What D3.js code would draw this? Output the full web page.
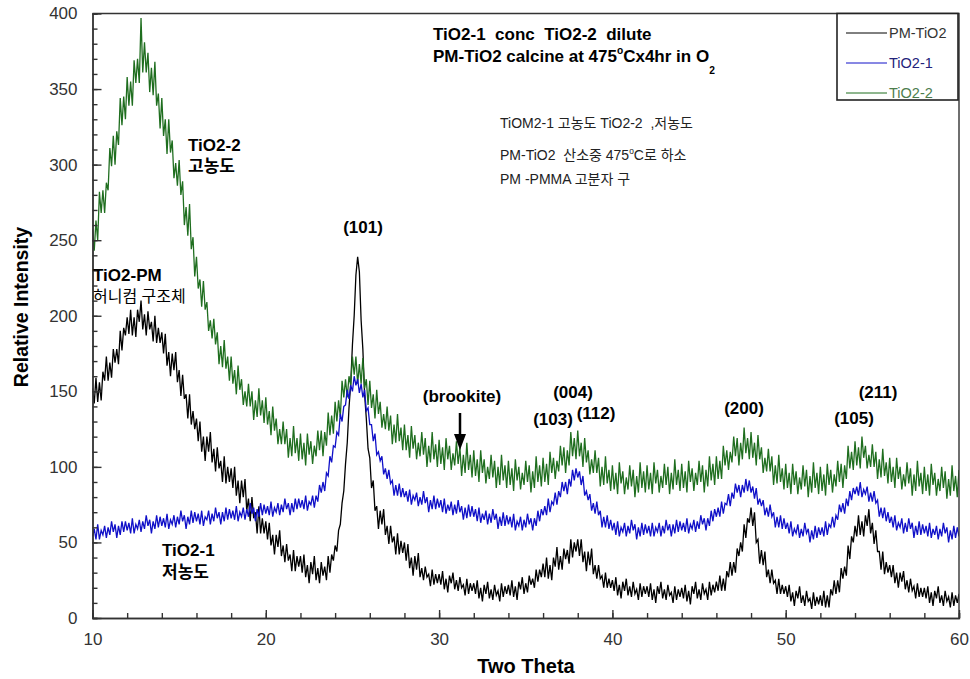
<!DOCTYPE html>
<html>
<head>
<meta charset="utf-8">
<script src="https://cdn.jsdelivr.net/npm/d3@7"></script>
<style>
  body { margin: 0; background: #fff; }
  text { font-family: "Liberation Sans", Arial, "Noto Sans CJK KR", sans-serif; }
</style>
</head>
<body>
<div id="chart"></div>
<script>
// scan grid, degrees two theta
var thetaStart = 10, thetaStep = 0.1;

// intensities, one value per step (10.0 .. 60.0), one row per degree
var pmTiO2 = [
  152,142,159,143,156,144,163,157,173,157,
  169,159,178,169,178,168,190,177,192,187,
  199,188,204,187,199,186,204,196,210,191,
  201,187,203,191,196,183,200,182,192,182,
  189,175,188,167,176,160,175,164,176,156,
  164,147,161,145,148,132,148,128,137,125,
  132,117,130,110,120,104,120,110,123,103,
  112,97,113,99,104,90,107,89,100,90,
  99,86,100,81,91,76,91,80,92,71,
  79,64,80,66,70,56,74,56,66,56,
  64,52,63,48,55,42,55,47,58,41,
  48,37,49,38,42,31,45,31,41,34,
  41,30,42,27,35,23,37,29,41,25,
  33,23,37,28,34,25,41,30,42,38,
  48,44,58,62,76,84,102,116,139,155,
  181,200,227,239,229,197,178,148,132,112,
  106,86,91,71,74,59,71,62,72,55,
  61,49,61,50,54,42,56,42,51,43,
  50,38,49,33,40,28,41,32,43,27,
  33,25,34,27,29,21,32,22,29,23,
  29,22,31,19,26,17,28,23,30,19,
  25,18,27,20,22,15,26,16,23,18,
  23,16,25,13,20,11,22,16,24,13,
  19,12,22,15,18,11,23,14,21,16,
  22,15,25,14,21,12,24,19,27,16,
  23,17,28,22,26,20,32,24,32,27,
  36,27,40,26,35,25,40,34,47,32,
  41,32,46,39,45,36,52,40,50,44,
  52,41,52,37,44,31,44,35,46,29,
  35,26,35,26,28,20,30,20,26,20,
  25,18,27,15,22,13,24,18,26,15,
  21,14,24,16,19,12,23,14,21,16,
  21,14,23,12,19,10,21,16,24,13,
  19,12,22,15,17,10,21,12,19,14,
  20,13,22,11,18,9,21,16,24,13,
  19,12,23,16,19,12,24,15,22,17,
  24,18,28,18,26,18,31,27,37,28,
  37,30,46,41,50,44,62,53,66,63,
  73,61,70,50,52,36,45,35,44,27,
  32,23,32,23,25,16,26,16,22,16,
  21,14,22,11,17,8,18,13,21,10,
  15,8,18,11,13,6,17,8,14,9,
  15,8,18,7,15,7,19,15,25,16,
  25,17,33,26,34,28,48,39,54,50,
  61,54,68,55,64,54,68,61,72,56,
  63,49,58,44,44,32,44,29,37,30,
  35,27,35,23,30,20,30,24,31,19,
  25,17,26,18,21,13,23,14,20,14,
  20,13,21,10,17,8,18,13,21,10,
  15,8,18,11,14,7,17,8,15,10,
  16
];
var tio2One = [
  54,59,52,62,52,58,55,61,53,60,
  55,64,57,62,53,61,55,64,57,64,
  58,63,56,66,56,62,59,65,57,64,
  59,68,61,65,56,64,59,68,60,67,
  61,66,60,69,59,65,62,68,60,67,
  62,71,64,68,59,67,62,71,63,70,
  64,69,62,71,61,67,65,71,62,69,
  64,73,66,70,62,70,64,73,65,72,
  66,71,65,74,64,70,67,73,65,72,
  67,76,69,73,64,72,67,76,68,75,
  69,74,68,77,67,73,70,76,68,75,
  70,79,72,76,68,76,70,79,72,79,
  73,78,72,81,71,77,75,81,73,81,
  77,88,83,90,84,96,94,107,103,114,
  113,123,121,135,130,140,141,151,145,154,
  150,160,154,158,149,155,146,151,137,139,
  128,128,117,122,108,110,104,107,95,99,
  92,98,89,91,81,88,81,89,80,86,
  80,84,77,85,75,81,78,83,74,80,
  75,84,76,80,70,78,72,81,72,79,
  73,78,70,79,69,75,71,77,68,75,
  69,78,70,74,65,73,66,75,67,74,
  67,72,64,73,63,69,65,71,62,69,
  63,72,65,69,59,67,61,70,61,68,
  62,67,60,69,58,64,61,67,58,65,
  60,69,62,66,58,66,61,71,64,72,
  68,74,68,79,70,77,75,83,75,84,
  80,90,84,90,82,92,87,98,91,99,
  93,97,88,94,81,84,78,82,71,76,
  69,77,68,71,60,67,60,68,59,65,
  58,63,55,64,54,60,57,63,54,61,
  56,65,58,62,52,60,54,63,55,62,
  56,61,54,63,54,60,57,63,54,61,
  56,65,58,62,54,62,56,65,57,64,
  58,63,57,66,56,62,59,65,57,64,
  59,68,62,66,58,66,61,71,64,72,
  67,73,67,77,69,76,75,82,74,83,
  79,89,83,88,80,88,83,92,84,91,
  83,87,79,86,75,79,74,78,68,73,
  67,75,67,70,60,67,60,68,59,66,
  59,63,56,64,54,59,56,62,53,59,
  54,63,56,59,50,58,52,61,53,60,
  55,60,54,64,55,62,60,67,60,68,
  65,75,70,76,69,79,74,84,78,86,
  82,87,81,90,80,85,82,87,77,83,
  77,84,76,78,67,73,66,73,64,70,
  63,67,60,68,58,63,60,66,56,63,
  57,66,59,63,53,61,55,64,55,62,
  56,61,54,63,53,59,55,61,52,59,
  54,63,56,60,50,58,52,61,53,60,
  54
];
var tio2Two = [
  257,243,263,250,282,268,283,268,288,283,
  311,299,319,300,322,313,344,326,345,330,
  358,339,355,339,369,354,370,354,397,361,
  381,361,374,348,364,346,368,339,347,324,
  344,319,330,307,330,308,316,291,301,286,
  303,280,289,260,272,253,274,244,252,226,
  239,218,224,206,223,204,209,190,197,185,
  198,181,189,168,180,166,184,165,173,157,
  173,155,164,148,167,151,158,141,150,140,
  155,140,150,131,144,133,152,134,144,129,
  146,128,137,121,140,124,132,115,125,115,
  130,115,125,106,119,107,127,109,119,104,
  122,105,116,101,122,108,117,102,114,107,
  124,111,124,107,123,114,136,121,134,122,
  143,130,144,133,157,146,158,146,160,154,
  173,161,173,155,168,155,172,152,158,141,
  157,139,148,132,151,135,143,126,135,125,
  140,124,134,115,128,116,135,117,126,111,
  128,111,121,106,127,112,121,105,116,107,
  123,108,119,100,114,103,123,105,115,100,
  118,102,113,98,119,105,114,98,109,101,
  117,102,113,94,108,96,116,98,108,93,
  111,94,105,90,111,96,105,89,100,92,
  108,93,104,86,100,88,108,91,101,86,
  104,88,99,84,105,91,100,85,96,88,
  104,90,101,83,97,86,107,90,101,87,
  106,90,102,88,110,96,106,92,104,97,
  114,101,113,96,111,101,123,107,119,105,
  124,107,116,100,119,103,111,95,105,96,
  111,96,106,87,100,88,107,89,98,84,
  101,85,96,82,103,89,97,82,93,85,
  101,87,98,80,94,83,103,86,97,83,
  101,85,96,82,103,89,98,83,94,86,
  102,88,100,82,96,85,105,88,98,84,
  102,86,97,83,104,90,99,84,96,88,
  104,90,101,83,98,87,107,91,102,88,
  107,92,104,92,114,101,111,98,110,103,
  120,107,119,101,116,105,126,109,119,105,
  123,106,116,101,121,105,113,96,106,97,
  112,97,107,88,101,89,108,90,99,85,
  102,86,96,82,102,88,97,82,93,85,
  101,87,98,80,94,83,103,86,96,82,
  100,84,95,81,102,88,98,83,95,87,
  104,90,102,86,101,92,114,99,110,98,
  117,101,113,99,120,106,114,99,108,100,
  115,100,110,92,105,93,112,94,103,89,
  106,90,100,86,106,92,100,85,95,87,
  103,89,99,81,95,84,104,87,96,82,
  100,84,95,81,102,88,96,81,92,84,
  100,86,97,79,92,81,101,84,94,80,
  98
];

var seriesNames = ["PM-TiO2", "TiO2-1", "TiO2-2"];
var xTicks = [10, 20, 30, 40, 50, 60];
var yTicks = [0, 50, 100, 150, 200, 250, 300, 350, 400];

var width = 970, height = 679;
var margin = {top: 13.5, right: 11, bottom: 61, left: 92.5};

var series = [
  {name: seriesNames[0], values: pmTiO2, color: "#000000", legendText: "#333333"},
  {name: seriesNames[1], values: tio2One, color: "#1010c8", legendText: "#23237a"},
  {name: seriesNames[2], values: tio2Two, color: "#1f6e1f", legendText: "#4d7d4d"}
];

var svg = d3.select("#chart").append("svg")
    .attr("width", width)
    .attr("height", height);

var x = d3.scaleLinear().domain([10, 60]).range([margin.left, width - margin.right]);
var y = d3.scaleLinear().domain([0, 400]).range([height - margin.bottom, margin.top]);

svg.append("clipPath").attr("id", "plot")
  .append("rect")
    .attr("x", x(10)).attr("y", y(400))
    .attr("width", x(60) - x(10)).attr("height", y(0) - y(400));

var line = d3.line()
    .x(function(d, i) { return x(thetaStart + i * thetaStep); })
    .y(function(d) { return y(d); });

// black first, blue ends up on top
[series[0], series[2], series[1]].forEach(function(s) {
  svg.append("path")
      .datum(s.values)
      .attr("clip-path", "url(#plot)")
      .attr("fill", "none")
      .attr("stroke", s.color)
      .attr("stroke-width", 1.3)
      .attr("d", line);
});

// axes, ticks point inward
var axisColor = "#333";

var xMinor = svg.append("g")
    .attr("transform", "translate(0," + y(0) + ")")
    .call(d3.axisBottom(x).tickValues(d3.range(10, 61, 2)).tickSize(-5).tickFormat(""));
var xAxis = svg.append("g")
    .attr("transform", "translate(0," + y(0) + ")")
    .call(d3.axisBottom(x).tickValues(xTicks).tickSizeInner(-8).tickSizeOuter(0).tickPadding(15));

var yMinor = svg.append("g")
    .attr("transform", "translate(" + x(10) + ",0)")
    .call(d3.axisLeft(y).tickValues(d3.range(0, 401, 10)).tickSize(-5).tickFormat(""));
var yAxis = svg.append("g")
    .attr("transform", "translate(" + x(10) + ",0)")
    .call(d3.axisLeft(y).tickValues(yTicks).tickSizeInner(-9).tickSizeOuter(0).tickPadding(15));

[xMinor, xAxis, yMinor, yAxis].forEach(function(g) {
  g.selectAll("path, line").attr("stroke", axisColor).attr("stroke-width", 1.4);
  g.selectAll("text").attr("font-size", 17).attr("fill", "#333")
      .attr("font-family", "'Liberation Sans', Arial, sans-serif");
});

// top and right frame
svg.append("path")
    .attr("d", "M" + x(10) + "," + y(400) + "H" + x(60) + "V" + y(0))
    .attr("fill", "none")
    .attr("stroke", axisColor)
    .attr("stroke-width", 1.4);

// text helper: ^x is a raised letter, _x a lowered one
function addText(px, py, str, o) {
  o = o || {};
  var size = o.size || 15;
  var t = svg.append("text")
      .attr("x", px).attr("y", py)
      .attr("font-size", size)
      .attr("font-weight", o.bold ? "bold" : "normal")
      .attr("text-anchor", o.anchor || "start")
      .attr("fill", o.fill || "#000")
      .attr("transform", o.transform || null)
      .style("white-space", "pre");
  var shift = 0;
  str.split(/([\^_].)/).forEach(function(p) {
    if (!p) return;
    var ts = t.append("tspan");
    if (p[0] === "^") {
      ts.text(p.slice(1)).attr("font-size", size * 0.6).attr("dy", -size * 0.45 - shift);
      shift = -size * 0.45;
    } else if (p[0] === "_") {
      ts.text(p.slice(1)).attr("font-size", size * 0.6).attr("dy", size * 0.7 - shift);
      shift = size * 0.7;
    } else {
      ts.text(p).attr("dy", -shift);
      shift = 0;
    }
  });
  return t;
}

// axis titles
addText(526, 673, "Two Theta", {size: 20, bold: true, anchor: "middle"});
addText(0, 0, "Relative Intensity", {size: 19.5, bold: true, anchor: "middle",
  transform: "translate(28,307) rotate(-90)"});

// notes
addText(433, 40, "TiO2-1  conc  TiO2-2  dilute", {size: 17, bold: true});
addText(433, 62, "PM-TiO2 calcine at 475^oCx4hr in O_2", {size: 17, bold: true});
addText(500, 128, "TiOM2-1 고농도 TiO2-2  ,저농도", {size: 14, fill: "#222"});
addText(500, 160, "PM-TiO2  산소중 475^oC로 하소", {size: 14, fill: "#222"});
addText(500, 184, "PM -PMMA 고분자 구", {size: 14, fill: "#222"});

addText(188, 151, "TiO2-2", {size: 17, bold: true});
addText(188, 172, "고농도", {size: 17, bold: true});
addText(93, 281, "TiO2-PM", {size: 17, bold: true});
addText(93, 302, "허니컴 구조체", {size: 16});
addText(162, 556, "TiO2-1", {size: 17, bold: true});
addText(162, 578, "저농도", {size: 17, bold: true});

// peak labels
addText(363, 233, "(101)", {size: 17, bold: true, anchor: "middle"});
addText(462, 402, "(brookite)", {size: 17, bold: true, anchor: "middle"});
addText(573, 398, "(004)", {size: 17, bold: true, anchor: "middle"});
addText(553, 425, "(103)", {size: 17, bold: true, anchor: "middle"});
addText(596, 419, "(112)", {size: 17, bold: true, anchor: "middle"});
addText(744, 414, "(200)", {size: 17, bold: true, anchor: "middle"});
addText(854, 424, "(105)", {size: 17, bold: true, anchor: "middle"});
addText(878, 398, "(211)", {size: 17, bold: true, anchor: "middle"});

// brookite arrow
svg.append("line")
    .attr("x1", 460).attr("y1", 413).attr("x2", 460).attr("y2", 438)
    .attr("stroke", "#000").attr("stroke-width", 2.5);
svg.append("path")
    .attr("d", "M454,434 L466,434 L460,450 Z")
    .attr("fill", "#000");

// legend
var legend = svg.append("g");
legend.append("rect")
    .attr("x", 837).attr("y", 13.5).attr("width", 121).attr("height", 86.5)
    .attr("fill", "#fff").attr("stroke", "#222").attr("stroke-width", 1.6);
series.forEach(function(s, i) {
  var ly = 33 + i * 30;
  legend.append("line")
      .attr("x1", 846).attr("x2", 887).attr("y1", ly).attr("y2", ly)
      .attr("stroke", s.color).attr("stroke-width", 1);
  legend.append("text")
      .attr("x", 889).attr("y", ly + 5)
      .attr("font-size", 14.5)
      .attr("fill", s.legendText)
      .text(s.name);
});
</script>
</body>
</html>
